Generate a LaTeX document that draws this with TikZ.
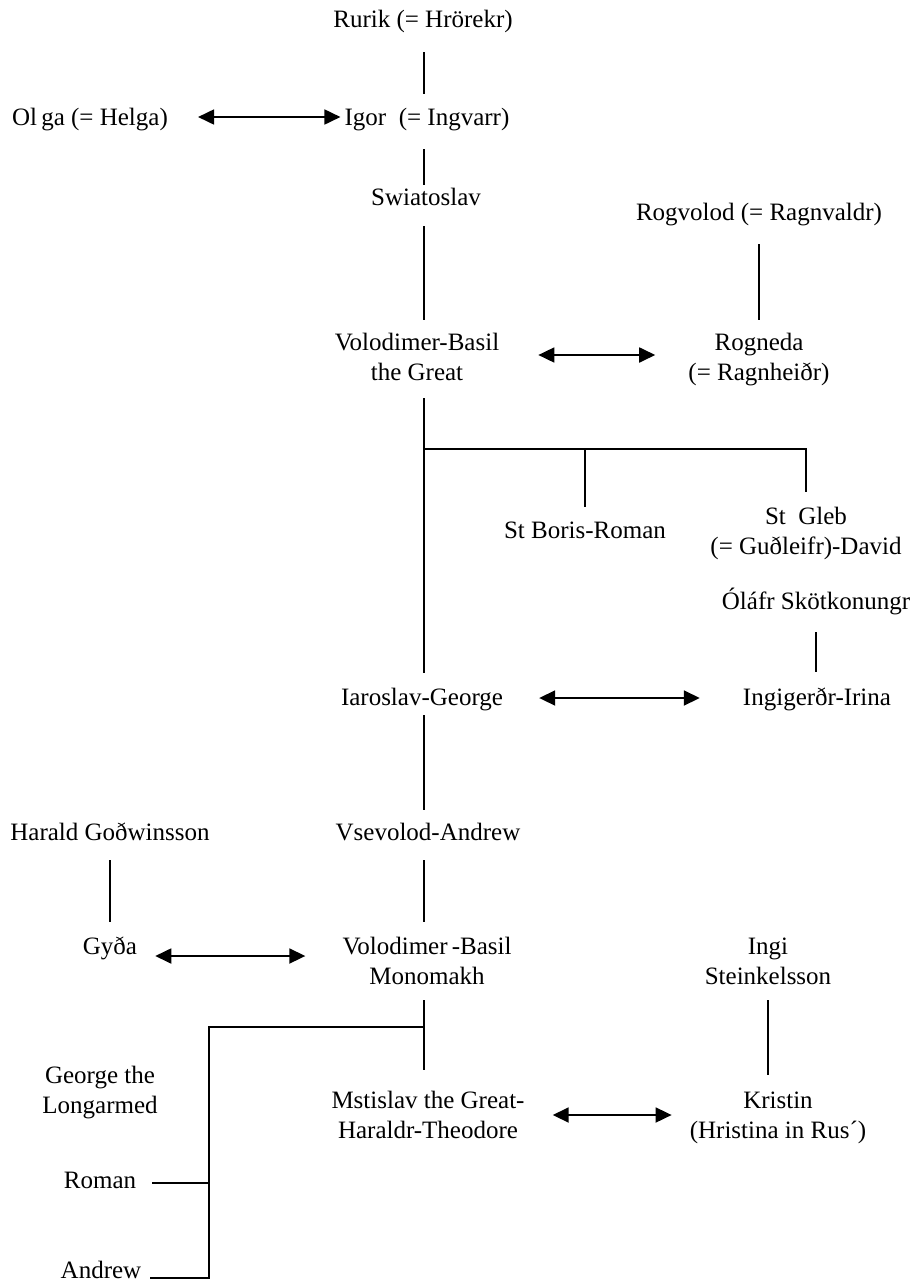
\documentclass[tikz,border=0pt]{standalone}
\usepackage{fontspec}
\setmainfont{Liberation Serif}
\usetikzlibrary{arrows.meta}

\begin{document}
\begin{tikzpicture}[x=1pt,y=1pt]
\tikzstyle{every node}+=[inner sep=0pt, anchor=base, align=center, font=\fontsize{25}{30}\selectfont]
\tikzstyle{kin}=[black, line width=1.1pt]
\tikzstyle{wed}=[black, line width=1.8pt, {Triangle[length=16pt,width=15pt]}-{Triangle[length=16pt,width=15pt]}]
\useasboundingbox (0,0) rectangle (916,-1285);
\coordinate (trunk) at (424,0);
% people (two-line names sit on their last line)
\draw (423,-27) node (rurik) {Rurik (= Hrörekr)};
\draw (90,-125) node (olga) {Ol\,ga (= Helga)};
\draw (427,-125) node (igor) {Igor~~(= Ingvarr)};
\draw (426,-205) node (swiat) {Swiatoslav};
\draw (759,-220) node (rogvolod) {Rogvolod (= Ragnvaldr)};
\draw (417,-380) node (volgreat) {Volodimer-Basil\\the Great};
\draw (759,-380) node (rogneda) {Rogneda\\(= Ragnheiðr)};
\draw (585,-538) node (boris) {St Boris-Roman};
\draw (806,-554) node (gleb) {St~~Gleb\\(= Guðleifr)-David};
\draw (816,-609) node (olaf) {Óláfr Skötkonungr};
\draw (422,-705) node (iaroslav) {Iaroslav-George};
\draw (817,-705) node (ingigerd) {Ingigerðr-Irina};
\draw (110,-840) node (harald) {Harald Goðwinsson};
\draw (428,-840) node (vsevolod) {Vsevolod-Andrew};
\draw (110,-954) node (gyda) {Gyða};
\draw (427,-984) node (monomakh) {Volodimer\,-Basil\\Monomakh};
\draw (768,-984) node (ingi) {Ingi\\Steinkelsson};
\draw (100,-1113) node (george) {George the\\Longarmed};
\draw (428,-1138) node (mstislav) {Mstislav the Great-\\Haraldr-Theodore};
\draw (778,-1138) node (kristin) {Kristin\\(Hristina in Rus´)};
\draw (100,-1188) node (roman) {Roman};
\draw (101,-1278) node (andrew) {Andrew};
% descent
\draw [kin, shorten <=25pt, shorten >=31pt] (rurik.base -| trunk) -- (igor.base -| trunk);
\draw [kin, shorten <=24pt, shorten >=20pt] (igor.base -| trunk) -- (swiat.base -| trunk);
\draw [kin, shorten <=21pt, shorten >=60pt] (swiat.base -| trunk) -- (volgreat.base -| trunk);
\draw [kin, shorten <=24pt, shorten >=60pt] (rogvolod.base) -- (rogneda.base);
\draw [kin, shorten <=18pt, shorten >=32pt] (volgreat.base -| trunk) -- (iaroslav.base -| trunk);
\coordinate (fork) at (424,-449);
\draw [kin, shorten >=31pt] (fork) -| (boris.base);
\draw [kin, shorten >=62pt] (fork) -| (gleb.base);
\draw [kin, shorten <=23pt, shorten >=33pt] (olaf.base) -- (olaf.base |- ingigerd.base);
\draw [kin, shorten <=10pt, shorten >=30pt] (iaroslav.base -| trunk) -- (vsevolod.base -| trunk);
\draw [kin, shorten <=20pt, shorten >=62pt] (vsevolod.base -| trunk) -- (monomakh.base -| trunk);
\draw [kin, shorten <=20pt, shorten >=32pt] (harald.base) -- (gyda.base);
\draw [kin, shorten <=16pt, shorten >=68pt] (monomakh.base -| trunk) -- (mstislav.base -| trunk);
\draw [kin, shorten <=16pt, shorten >=63pt] (ingi.base) -- (ingi.base |- kristin.base);
\coordinate (junction) at (424,-1027);
\coordinate (branch) at (209,-1027);
\draw [kin] (junction) -- (branch) |- ([xshift=9pt]andrew.base east);
\draw [kin] ([xshift=16pt,yshift=5pt]roman.base east) coordinate (rtick) -- (rtick -| branch);
% marriages
\draw [wed, shorten <=30pt, shorten >=4pt] ([yshift=8pt]olga.base east) -- ([yshift=8pt]igor.base west);
\draw [wed, shorten <=39pt, shorten >=33pt] ([yshift=25pt]volgreat.base east) -- ([yshift=25pt]rogneda.base west);
\draw [wed, shorten <=36pt, shorten >=43pt] ([yshift=7pt]iaroslav.base east) -- ([yshift=7pt]ingigerd.base west);
\draw [wed, shorten <=18pt, shorten >=37pt] ([yshift=-2pt]gyda.base east) -- ([yshift=28pt]monomakh.base west);
\draw [wed, shorten <=28pt, shorten >=18pt] ([yshift=23pt]mstislav.base east) -- ([yshift=23pt]kristin.base west);
\end{tikzpicture}
\end{document}
